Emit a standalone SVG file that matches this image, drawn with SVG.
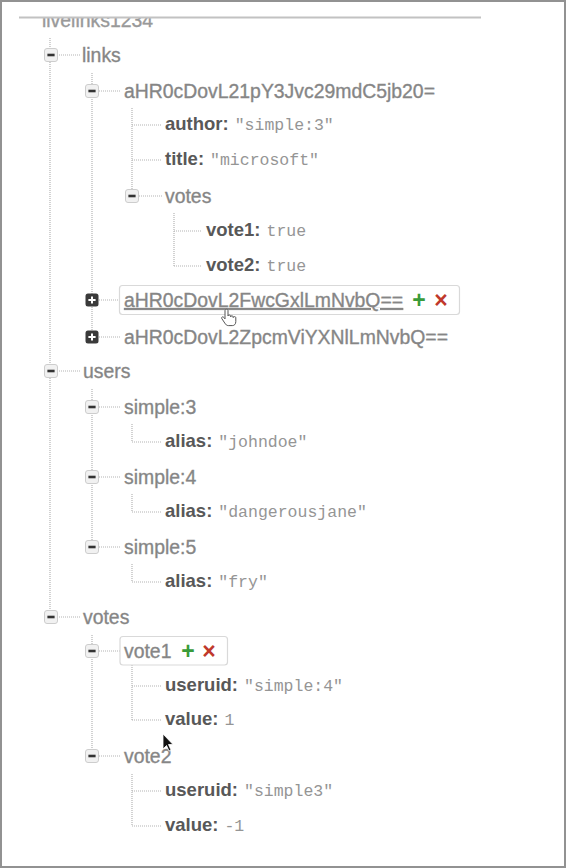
<svg xmlns="http://www.w3.org/2000/svg" width="566" height="868" viewBox="0 0 566 868">
<defs>
<style>
.n{font-family:"Liberation Sans",Arial,Helvetica,sans-serif;font-size:19.4px;fill:#858585;stroke:#8a8a8a;stroke-width:0.35}
.k{font-family:"Liberation Sans",Arial,Helvetica,sans-serif;font-size:18.5px;font-weight:bold;fill:#585858;stroke:none}
.v{font-family:"Liberation Mono","Courier New",monospace;font-size:16.5px;font-weight:normal;fill:#959595}
.c{stroke:#b4b4b4;stroke-width:1.2;stroke-dasharray:1 1;fill:none}
.hl{fill:#fff;stroke:#d9d9d9;stroke-width:1.2}
.add{font-family:"Liberation Sans",Arial,sans-serif;font-size:23px;font-weight:bold;fill:#3a9b3a;text-anchor:middle}
.del{font-family:"Liberation Sans",Arial,sans-serif;font-size:23px;font-weight:bold;fill:#c0392b;text-anchor:middle}
</style>
<g id="minus"><rect x="-6.5" y="-6.5" width="13" height="13" rx="2.5" fill="#f1f1f1" stroke="#cdcdcd"/><rect x="-3.6" y="-1.3" width="7.2" height="2.6" fill="#333"/></g>
<g id="plus"><rect x="-6.5" y="-6.5" width="13" height="13" rx="2.5" fill="#3a3a3a"/><path d="M-3.6 0H3.6M0 -3.6V3.6" stroke="#fff" stroke-width="2"/></g>
<clipPath id="hc"><rect x="0" y="18" width="566" height="20"/></clipPath>
</defs>
<rect x="0" y="0" width="566" height="868" fill="#fff"/>
<rect x="1" y="1" width="564" height="866" fill="none" stroke="#929292" stroke-width="2"/>

<g id="header">
<text class="n" x="42" y="27" clip-path="url(#hc)" style="fill:#999;stroke:#9a9a9a">livelinks1234</text>
<line x1="19" y1="17.5" x2="481" y2="17.5" stroke="#c2c2c2" stroke-width="2.2"/>
</g>

<g id="connectors">
<path class="c" d="M50 38V617M57 55H80M57 371H81M57 617H81"/>
<path class="c" d="M92 73V337M99 91H121M99 300H119M99 337H121"/>
<path class="c" d="M132 108V196M132 125H161M132 160H161M139 196H162"/>
<path class="c" d="M174 213V266M174 231H202M174 266H202"/>
<path class="c" d="M92 389V547M99 407H121M99 477H121M99 547H121"/>
<path class="c" d="M132 424V442H161M132 494V512H161M132 564V582H161"/>
<path class="c" d="M92 635V756M99 651H120M99 756H121"/>
<path class="c" d="M132 665V720M132 686H161M132 720H161"/>
<path class="c" d="M132 774V826M132 791H161M132 826H161"/>
</g>

<g id="node-links"><use href="#minus" x="51" y="55"/><text class="n" x="82" y="62">links</text></g>
<g id="node-link-microsoft"><use href="#minus" x="92" y="91"/><text class="n" x="124" y="98">aHR0cDovL21pY3Jvc29mdC5jb20=</text></g>
<g id="node-author"><text class="k" x="165" y="130">author:<tspan class="v" dx="6">"simple:3"</tspan></text></g>
<g id="node-title"><text class="k" x="165" y="165">title:<tspan class="v" dx="6">"microsoft"</tspan></text></g>
<g id="node-link-votes"><use href="#minus" x="132" y="196"/><text class="n" x="165" y="203">votes</text></g>
<g id="node-link-vote1"><text class="k" x="206" y="236">vote1:<tspan class="v" dx="6">true</tspan></text></g>
<g id="node-link-vote2"><text class="k" x="206" y="271">vote2:<tspan class="v" dx="6">true</tspan></text></g>
<g id="node-link-apple">
<use href="#plus" x="92" y="300"/>
<rect class="hl" x="119.5" y="285.5" width="340" height="29" rx="3"/>
<text class="n" x="124" y="307" text-decoration="underline">aHR0cDovL2FwcGxlLmNvbQ==</text>
<text class="add" x="419" y="308">+</text>
<text class="del" x="441" y="308">×</text>
</g>
<g id="node-link-firebase"><use href="#plus" x="92" y="337"/><text class="n" x="124" y="344">aHR0cDovL2ZpcmViYXNlLmNvbQ==</text></g>

<g id="node-users"><use href="#minus" x="51" y="371"/><text class="n" x="83" y="378">users</text></g>
<g id="node-simple3"><use href="#minus" x="92" y="407"/><text class="n" x="124" y="414">simple:3</text></g>
<g id="node-alias3"><text class="k" x="165" y="447">alias:<tspan class="v" dx="6">"johndoe"</tspan></text></g>
<g id="node-simple4"><use href="#minus" x="92" y="477"/><text class="n" x="124" y="484">simple:4</text></g>
<g id="node-alias4"><text class="k" x="165" y="517">alias:<tspan class="v" dx="6">"dangerousjane"</tspan></text></g>
<g id="node-simple5"><use href="#minus" x="92" y="547"/><text class="n" x="124" y="554">simple:5</text></g>
<g id="node-alias5"><text class="k" x="165" y="587">alias:<tspan class="v" dx="6">"fry"</tspan></text></g>

<g id="node-votes"><use href="#minus" x="51" y="617"/><text class="n" x="83" y="624">votes</text></g>
<g id="node-vote1">
<use href="#minus" x="92" y="651"/>
<rect class="hl" x="120" y="636.5" width="107.5" height="28.5" rx="3"/>
<text class="n" x="124" y="658">vote1</text>
<text class="add" x="188" y="659">+</text>
<text class="del" x="209" y="659">×</text>
</g>
<g id="node-vote1-useruid"><text class="k" x="165" y="691">useruid:<tspan class="v" dx="6">"simple:4"</tspan></text></g>
<g id="node-vote1-value"><text class="k" x="165" y="725">value:<tspan class="v" dx="6">1</tspan></text></g>
<g id="node-vote2"><use href="#minus" x="92" y="756"/><text class="n" x="124" y="763">vote2</text></g>
<g id="node-vote2-useruid"><text class="k" x="165" y="796">useruid:<tspan class="v" dx="6">"simple3"</tspan></text></g>
<g id="node-vote2-value"><text class="k" x="165" y="831">value:<tspan class="v" dx="6">-1</tspan></text></g>

<g id="cursors">
<path d="M225 310.5c0-1.6 3-1.6 3 0v5.5c0-1.3 2.6-1.3 2.6 0v0.8c0-1.3 2.6-1.3 2.6 0v0.8c0-1.3 2.6-1.3 2.6 0v4c0 2.6-1.5 4-3.5 4h-4c-1.6 0-2.5-1-3.5-2.5l-3-4.5c-0.8-1.3 1-2.5 2-1.2l1.2 1.5z" fill="#fff" stroke="#555" stroke-width="1"/>
<path d="M163 734L163 749L166.5 745.5L169 751L171 750L168.5 744.5L173 744.5Z" fill="#111" stroke="#fff" stroke-width="0.8"/>
</g>
</svg>
